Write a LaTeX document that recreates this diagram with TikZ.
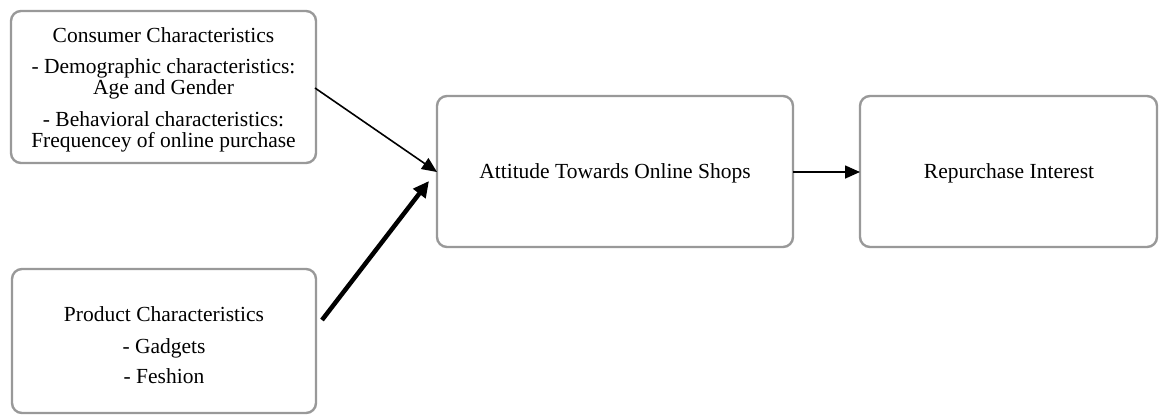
\documentclass[tikz,border=0pt]{standalone}
\usepackage{fontspec}
\setmainfont{Liberation Serif}
\usetikzlibrary{arrows.meta}
\tikzset{
  box/.style={draw=gray!80, line width=2.4pt, rounded corners=10pt, fill=white, inner sep=0pt},
  boxtxt/.style={align=center, font=\fontsize{21.5}{21}\selectfont, inner sep=0pt},
  thinarrow/.style={-{Triangle[length=15pt,width=13pt]}, line width=1.6pt},
  thickarrow/.style={-{Triangle[length=16pt,width=15pt]}, line width=4.5pt}
}
\begin{document}
\begin{tikzpicture}[x=1pt,y=-1pt]
\useasboundingbox (0,0) rectangle (1159,416);
\draw[box] (11,11) rectangle (316,163);
\node[boxtxt] (cc) at (163.5,89.7) {Consumer Characteristics\\[9.5pt]- Demographic characteristics:\\Age and Gender\\[11pt]- Behavioral characteristics:\\Frequencey of online purchase};
\coordinate (c1) at (315,88);
\draw[box] (12,269) rectangle (316,413);
\node[boxtxt] (pc) at (164,345.2) {Product Characteristics\\[10.5pt]- Gadgets\\[9pt]- Feshion};
\coordinate (p1) at (322,320);
\draw[box] (437,96) rectangle (793,247);
\node[boxtxt, anchor=base] (at) at (615,178) {Attitude Towards Online Shops};
\coordinate (a1) at (437,172);
\coordinate (a2) at (793,172);
\coordinate (a3) at (429,181);
\draw[box] (860,96) rectangle (1157,247);
\node[boxtxt, anchor=base] (ri) at (1009,178) {Repurchase Interest};
\coordinate (r1) at (860,172);
\draw[thinarrow] (c1) -- (a1);
\draw[thickarrow] (p1) -- (a3);
\draw[thinarrow] (a2) -- (r1);
\end{tikzpicture}
\end{document}
